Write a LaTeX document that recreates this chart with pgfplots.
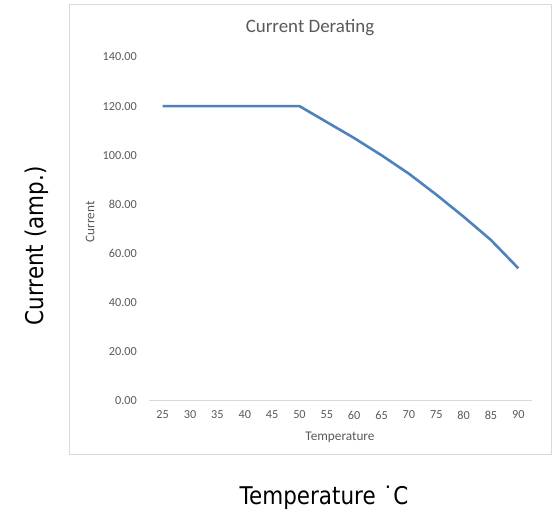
\documentclass[border=0pt]{standalone}
\usepackage{fontspec}
\usepackage{pgfplots}
\pgfplotsset{compat=1.18}
\setmainfont{Carlito}
\newfontfamily\outerfont{DejaVu Sans}[FakeStretch=0.88]
\definecolor{txtgray}{HTML}{595959}
\definecolor{linegray}{HTML}{D9D9D9}
\definecolor{serblue}{HTML}{4F81BD}

\begin{document}
\begin{tikzpicture}[x=1bp,y=1bp]
\useasboundingbox (0,0) rectangle (555,512);
% chart area border
\draw[linegray, line width=1bp] (69,57) rectangle (551,507);
\begin{axis}[
	at={(149bp,111bp)}, anchor=south west,
	scale only axis,
	width=383bp, height=344bp,
	xmin=-0.5, xmax=13.5,
	ymin=0, ymax=140,
	xtick={0,...,13},
	xticklabels={25,30,35,40,45,50,55,60,65,70,75,80,85,90},
	ytick={0,20,...,140},
	separate axis lines,
	axis x line*=bottom,
	axis y line*=left,
	x axis line style={draw=linegray, line width=1bp, -},
	y axis line style={draw=none},
	tick style={draw=none},
	/pgf/number format/.cd, fixed, fixed zerofill, precision=2, assume math mode=true,
	/pgfplots/.cd,
	ticklabel style={font=\fontsize{12.3}{14}\selectfont, text=txtgray},
	xticklabel style={anchor=center, yshift=-14bp},
	yticklabel style={anchor=east, inner sep=0pt, xshift=-12bp},
	clip=false,
	]
	\addplot[serblue, line width=2.6bp, line join=round] coordinates {
		(0,120) (1,120) (2,120) (3,120) (4,120) (5,120)
		(6,113.5) (7,107) (8,100) (9,92.5) (10,84) (11,75) (12,65.5) (13,54)
	};
\end{axis}
% chart texts
\node[font=\fontsize{19}{22}\selectfont, text=txtgray] at (310,484) {Current Derating};
\node[font=\fontsize{13.3}{15}\selectfont, text=txtgray] at (340,75) {Temperature};
\node[font=\fontsize{13.3}{15}\selectfont, text=txtgray, rotate=90] at (90,290) {Current};
% outer labels
\node[font=\outerfont\fontsize{24.5}{28}\selectfont, anchor=base] at (324,7) {Temperature ˙C};
\node[font=\outerfont\fontsize{24.5}{28}\selectfont, anchor=base, rotate=90] at (43,266) {Current (amp.)};
\end{tikzpicture}
\end{document}
